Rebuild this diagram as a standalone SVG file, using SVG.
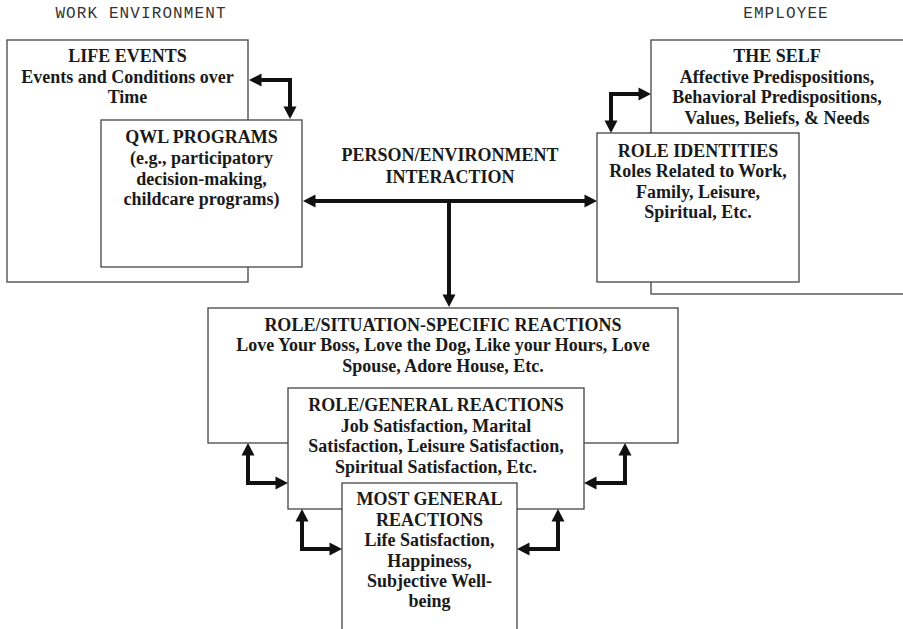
<svg xmlns="http://www.w3.org/2000/svg" width="903" height="629" viewBox="0 0 903 629">
<style>
.box{fill:#fff;stroke:#444;stroke-width:1.3}
.t{font-family:"Liberation Serif","Times New Roman",serif;font-weight:bold;font-size:18px;fill:#1a1a1a;text-anchor:middle}
.m{font-family:"Liberation Mono","Courier New",monospace;font-size:16px;letter-spacing:1.1px;fill:#333;text-anchor:middle}
.c{fill:none;stroke:#111;stroke-width:4;stroke-linejoin:miter}
</style>
<defs>
<marker id="ah" markerUnits="userSpaceOnUse" markerWidth="13" markerHeight="14" viewBox="0 -7 13 14" refX="0.5" refY="0" orient="auto-start-reverse" overflow="visible">
<path d="M0,-6.5 L12.5,0 L0,6.5 z" fill="#111"/>
</marker>
</defs>
<rect width="903" height="629" fill="#fff"/>
<text class="m" x="141" y="18">WORK ENVIRONMENT</text>
<text class="m" x="786" y="18">EMPLOYEE</text>

<g id="life-events">
<rect class="box" x="7" y="40" width="241" height="242"/>
<text class="t" x="127.5" y="62">LIFE EVENTS</text>
<text class="t" x="127.5" y="82.5">Events and Conditions over</text>
<text class="t" x="127.5" y="103">Time</text>
</g>
<g id="qwl-programs">
<rect class="box" x="101" y="120" width="201" height="147"/>
<text class="t" x="201.5" y="143">QWL PROGRAMS</text>
<text class="t" x="201.5" y="164">(e.g., participatory</text>
<text class="t" x="201.5" y="184.5">decision-making,</text>
<text class="t" x="201.5" y="205">childcare programs)</text>
</g>
<g id="the-self">
<rect class="box" x="651" y="40" width="256" height="254"/>
<text class="t" x="777" y="62">THE SELF</text>
<text class="t" x="777" y="82.5">Affective Predispositions,</text>
<text class="t" x="777" y="103">Behavioral Predispositions,</text>
<text class="t" x="777" y="123.5">Values, Beliefs, &amp; Needs</text>
</g>
<g id="role-identities">
<rect class="box" x="597" y="133" width="202" height="149"/>
<text class="t" x="698" y="156.5">ROLE IDENTITIES</text>
<text class="t" x="698" y="177">Roles Related to Work,</text>
<text class="t" x="698" y="197.5">Family, Leisure,</text>
<text class="t" x="698" y="218">Spiritual, Etc.</text>
</g>
<g id="person-environment">
<text class="t" x="450" y="161">PERSON/ENVIRONMENT</text>
<text class="t" x="450" y="182.5">INTERACTION</text>
</g>
<g id="role-situation">
<rect class="box" x="208" y="308" width="470" height="135"/>
<text class="t" x="443" y="331">ROLE/SITUATION-SPECIFIC REACTIONS</text>
<text class="t" x="443" y="351">Love Your Boss, Love the Dog, Like your Hours, Love</text>
<text class="t" x="443" y="371.5">Spouse, Adore House, Etc.</text>
</g>
<g id="role-general">
<rect class="box" x="288" y="388" width="296" height="121"/>
<text class="t" x="436" y="411">ROLE/GENERAL REACTIONS</text>
<text class="t" x="436" y="431.5">Job Satisfaction, Marital</text>
<text class="t" x="436" y="452">Satisfaction, Leisure Satisfaction,</text>
<text class="t" x="436" y="472.5">Spiritual Satisfaction, Etc.</text>
</g>
<g id="most-general">
<rect class="box" x="342" y="483" width="175" height="160"/>
<text class="t" x="429.5" y="505">MOST GENERAL</text>
<text class="t" x="429.5" y="525.5">REACTIONS</text>
<text class="t" x="429.5" y="546">Life Satisfaction,</text>
<text class="t" x="429.5" y="566.5">Happiness,</text>
<text class="t" x="429.5" y="587">Subjective Well-</text>
<text class="t" x="429.5" y="607">being</text>
</g>
<g id="connectors">
<path class="c" d="M261,80 L290,80 L290,107" marker-start="url(#ah)" marker-end="url(#ah)"/>
<path class="c" d="M611,121 L611,94 L639,94" marker-start="url(#ah)" marker-end="url(#ah)"/>
<path class="c" d="M315,201 L585,201" marker-start="url(#ah)" marker-end="url(#ah)"/>
<path class="c" d="M449,201 L449,295" marker-end="url(#ah)"/>
<path class="c" d="M248,455 L248,483 L276,483" marker-start="url(#ah)" marker-end="url(#ah)"/>
<path class="c" d="M302,521 L302,549 L330,549" marker-start="url(#ah)" marker-end="url(#ah)"/>
<path class="c" d="M558,521 L558,549 L529,549" marker-start="url(#ah)" marker-end="url(#ah)"/>
<path class="c" d="M625,455 L625,483 L596,483" marker-start="url(#ah)" marker-end="url(#ah)"/>
</g>
</svg>
